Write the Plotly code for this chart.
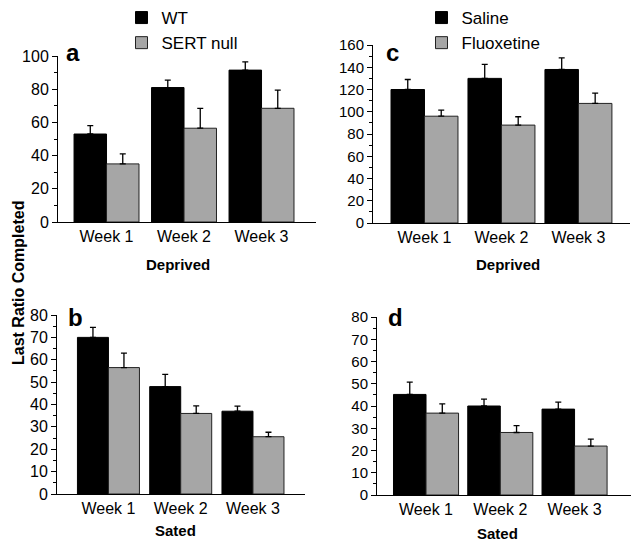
import plotly.graph_objects as go

W, H = 631, 542

weeks = ["Week 1", "Week 2", "Week 3"]

# Panel a (Deprived, genotype)
a_wt = [53, 81, 91.5]
a_wt_err = [5, 4.5, 5]
a_sert = [35, 56.5, 68.5]
a_sert_err = [6, 12, 11]

# Panel b (Sated, genotype)
b_wt = [70, 48, 37]
b_wt_err = [4.5, 5.5, 2.3]
b_sert = [56.5, 36, 25.6]
b_sert_err = [6.5, 3.4, 2]

# Panel c (Deprived, drug)
c_sal = [120, 130, 138]
c_sal_err = [9, 12.5, 10.5]
c_flx = [96, 88, 107.5]
c_flx_err = [5.5, 7.5, 9.3]

# Panel d (Sated, drug)
d_sal = [45.2, 40, 38.6]
d_sal_err = [5.5, 3.1, 3.1]
d_flx = [36.8, 28.1, 22]
d_flx_err = [4.2, 3.1, 3.1]

FONT = "Liberation Sans, Arial, sans-serif"
BLACK = "#000000"
GRAY = "#a6a6a6"

# layout of panels in pixels: (x0, x1, ytop, ybottom), category range, half bar width, y range, dtick, minor
panels = {
    "a": dict(px=(58, 316, 56, 222), xr=[-0.626, 2.703], hw=0.419, yr=[0, 100], dt=20, mdt=10, tf=16),
    "c": dict(px=(373, 630, 45, 223), xr=[-0.669, 2.67], hw=0.435, yr=[0, 160], dt=20, mdt=10, tf=15),
    "b": dict(px=(57, 305, 315, 494), xr=[-0.712, 2.72], hw=0.429, yr=[0, 80], dt=10, mdt=5, tf=16),
    "d": dict(px=(377, 631, 317, 495), xr=[-0.66, 2.76], hw=0.438, yr=[0, 80], dt=10, mdt=5, tf=15),
}
axis_ids = {"a": ("x", "y"), "c": ("x2", "y2"), "b": ("x3", "y3"), "d": ("x4", "y4")}

series = {
    "a": [("WT", a_wt, a_wt_err, BLACK, "legend"), ("SERT null", a_sert, a_sert_err, GRAY, "legend")],
    "c": [("Saline", c_sal, c_sal_err, BLACK, "legend2"), ("Fluoxetine", c_flx, c_flx_err, GRAY, "legend2")],
    "b": [("WT", b_wt, b_wt_err, BLACK, None), ("SERT null", b_sert, b_sert_err, GRAY, None)],
    "d": [("Saline", d_sal, d_sal_err, BLACK, None), ("Fluoxetine", d_flx, d_flx_err, GRAY, None)],
}

fig = go.Figure()
for key, sers in series.items():
    xa, ya = axis_ids[key]
    hw = panels[key]["hw"]
    for i, (name, vals, errs, col, leg) in enumerate(sers):
        fig.add_trace(go.Bar(
            x=weeks, y=vals, name=name, xaxis=xa, yaxis=ya,
            width=hw, offset=-hw if i == 0 else 0,
            marker=dict(color=col, line=dict(color="#222222" if col == GRAY else BLACK, width=1)),
            error_y=dict(type="data", array=errs, arrayminus=[0] * len(errs), symmetric=False,
                         color=BLACK, thickness=1.3, width=3),
            showlegend=leg is not None,
            legend=leg if leg else "legend",
        ))

layout = dict(
    width=W, height=H, margin=dict(l=0, r=0, t=0, b=0, autoexpand=False),
    paper_bgcolor="white", plot_bgcolor="white",
    barmode="overlay",
    font=dict(family=FONT, color="black", size=16),
    legend=dict(x=(141.5 - 20) / W, y=1.0, xanchor="left", yanchor="top",
                font=dict(size=17), bgcolor="rgba(0,0,0,0)"),
    legend2=dict(x=(441.5 - 20) / W, y=1.0, xanchor="left", yanchor="top",
                 font=dict(size=17), bgcolor="rgba(0,0,0,0)"),
)

for key, p in panels.items():
    x0, x1, yt, yb = p["px"]
    xa, ya = axis_ids[key]
    xname = "xaxis" + xa[1:]
    yname = "yaxis" + ya[1:]
    layout[xname] = dict(
        domain=[x0 / W, x1 / W], anchor=ya, range=p["xr"], type="category",
        showline=True, linecolor="black", linewidth=1, ticks="", showgrid=False,
        zeroline=False, tickfont=dict(size=16), fixedrange=True, automargin=False,
    )
    layout[yname] = dict(
        domain=[1 - yb / H, 1 - yt / H], anchor=xa, range=p["yr"],
        dtick=p["dt"], tick0=0, ticks="outside", ticklen=5, tickwidth=1, tickcolor="black",
        showline=True, linecolor="black", linewidth=1, showgrid=False, zeroline=False,
        tickfont=dict(size=p["tf"]), automargin=False,
        minor=dict(dtick=p["mdt"], ticks="outside", ticklen=3, tickcolor="black", showgrid=False),
    )

fig.update_layout(**layout)

annotations = [
    dict(text="<b>a</b>", x=64, y=52, size=24),
    dict(text="<b>c</b>", x=384, y=52, size=24),
    dict(text="<b>b</b>", x=66, y=317, size=24),
    dict(text="<b>d</b>", x=386, y=317, size=24),
]
for an in annotations:
    fig.add_annotation(text=an["text"], x=an["x"] / W, y=1 - an["y"] / H, xref="paper", yref="paper",
                       xanchor="left", yanchor="middle", showarrow=False, font=dict(size=an["size"]))

titles = [("<b>Deprived</b>", 178, 264), ("<b>Deprived</b>", 508, 265),
          ("<b>Sated</b>", 175, 530), ("<b>Sated</b>", 497, 533)]
for t, x, y in titles:
    fig.add_annotation(text=t, x=x / W, y=1 - y / H, xref="paper", yref="paper",
                       xanchor="center", yanchor="middle", showarrow=False, font=dict(size=15))

fig.add_annotation(text="<b>Last Ratio Completed</b>", x=18 / W, y=1 - 283 / H, xref="paper", yref="paper",
                   xanchor="center", yanchor="middle", textangle=-90, showarrow=False, font=dict(size=16))

fig.write_html("out.html")
